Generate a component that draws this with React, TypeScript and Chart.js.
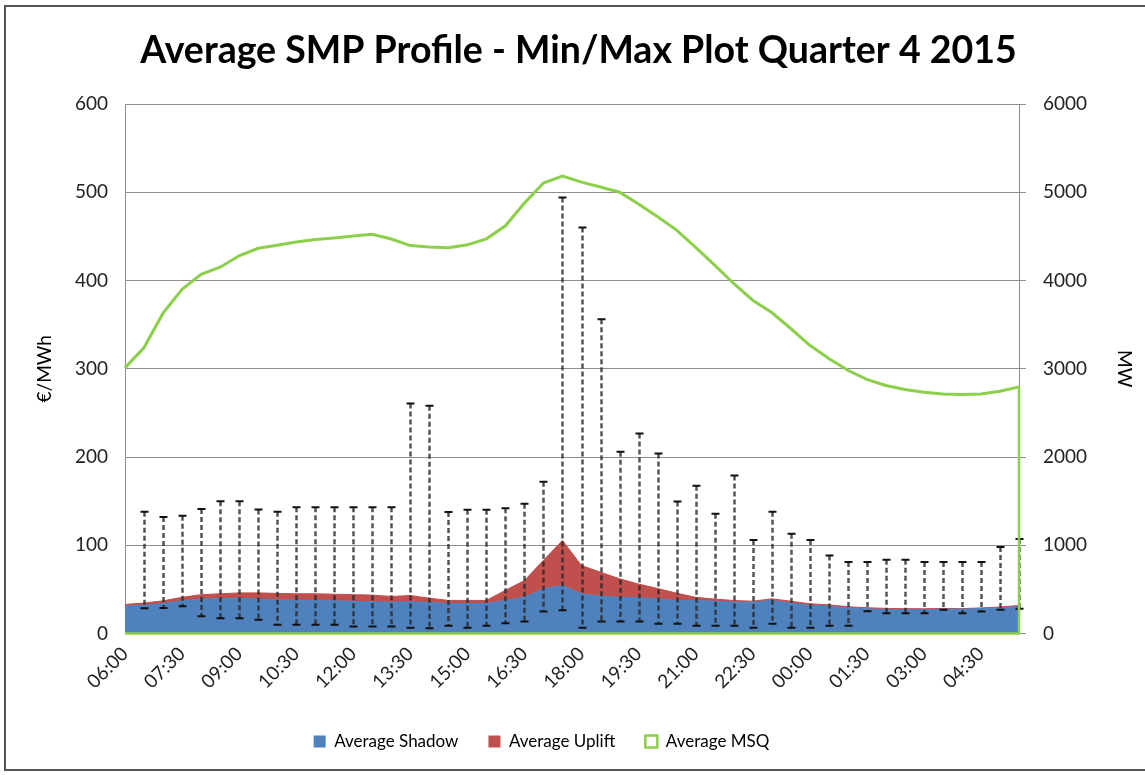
import React, { useEffect, useRef } from 'react';
import { Chart, registerables } from 'chart.js';

Chart.register(...registerables);

const timeLabels = [
  '06:00', '06:30', '07:00', '07:30', '08:00', '08:30', '09:00', '09:30',
  '10:00', '10:30', '11:00', '11:30', '12:00', '12:30', '13:00', '13:30',
  '14:00', '14:30', '15:00', '15:30', '16:00', '16:30', '17:00', '17:30',
  '18:00', '18:30', '19:00', '19:30', '20:00', '20:30', '21:00', '21:30',
  '22:00', '22:30', '23:00', '23:30', '00:00', '00:30', '01:00', '01:30',
  '02:00', '02:30', '03:00', '03:30', '04:00', '04:30', '05:00', '05:30',
];

const avgShadow = [
  31, 32, 34, 37, 39, 39.5, 40, 39, 38.5, 38, 37.4, 37, 36.5, 36, 35.5, 36,
  35, 34, 34, 34, 37.5, 41, 50.7, 54.4, 45, 42, 41, 40.5, 39.5, 37.4, 37.4, 36.6,
  35.5, 35.5, 37.4, 34.4, 31.8, 31, 29, 28, 27, 27, 27, 27.5, 27.6, 28.3, 29, 30.6,
];

const avgUplift = [
  2, 2.5, 3, 4, 5, 5.5, 6, 7, 7, 7, 7.6, 7.5, 7.5, 7.5, 6.5, 7,
  5, 3.5, 3.5, 3.5, 11.5, 19, 32.3, 51.1, 32, 27.5, 21, 15.5, 11.5, 8.3, 3.6, 2.4,
  1.9, 1.1, 1.9, 2.2, 1.9, 1.5, 1.3, 1.3, 1.4, 1.2, 1, 0.9, 0.6, 0.7, 1, 1.2,
];

const avgMsq = [
  3010, 3240, 3630, 3900, 4070, 4150, 4280, 4365, 4400, 4436, 4465, 4482, 4503, 4523, 4470, 4396,
  4380, 4372, 4404, 4472, 4620, 4877, 5104, 5183, 5115, 5060, 5000, 4866, 4722, 4571, 4375, 4174,
  3966, 3777, 3637, 3456, 3266, 3115, 2983, 2880, 2810, 2765, 2735, 2715, 2708, 2715, 2745, 2795,
];

const maxPrice = [
  null, 138, 132, 133.5, 141, 150, 150, 140.6, 138, 143, 143, 143, 143, 143, 143, 260.5,
  258, 137.6, 140.3, 140.3, 142, 147, 172, 494, 460, 356, 206, 226.5, 204, 149.5, 167.5, 135.7,
  179, 106, 138, 113, 106, 88.5, 81, 81, 83.6, 83.6, 81, 81, 81, 81, 98, 107,
];

const minPrice = [
  null, 28.7, 29, 31, 19.6, 17.4, 17.4, 15.5, 10, 10, 10, 10, 8, 8, 8, 6.4,
  6, 8.7, 6.4, 8.7, 11.7, 13.6, 25, 26.4, 6.4, 13.6, 13.6, 13.6, 11, 11, 8.7, 8.7,
  8.7, 6.4, 11, 6.4, 6.4, 8.7, 8.7, 25.3, 23, 23, 23, 26.8, 23, 25, 27, 28,
];

const BLUE = '#4f81bd';
const RED = '#c0504d';
const GREEN = '#8ccf4a';
const GRID = '#8c8c8c';
const TEXT = '#222222';
const FONT = 'Lato, "Open Sans", "DejaVu Sans", sans-serif';

const errorBarPlugin = {
  id: 'minMaxBars',
  afterDatasetsDraw(chart: any) {
    const { ctx } = chart;
    const xs = chart.scales.x;
    const ys = chart.scales.y;
    ctx.save();
    for (let i = 0; i < maxPrice.length; i++) {
      const hi = maxPrice[i];
      const lo = minPrice[i];
      if (hi == null || lo == null) continue;
      const x = Math.round(xs.getPixelForValue(i)) + 0.5;
      const yTop = ys.getPixelForValue(hi);
      const yBot = ys.getPixelForValue(lo);
      ctx.strokeStyle = 'rgba(40,40,40,0.8)';
      ctx.lineWidth = 2.5;
      ctx.setLineDash([5, 3]);
      ctx.beginPath();
      ctx.moveTo(x, yTop);
      ctx.lineTo(x, yBot);
      ctx.stroke();
      ctx.setLineDash([]);
      ctx.strokeStyle = '#111111';
      ctx.lineWidth = 2;
      ctx.beginPath();
      ctx.moveTo(x - 4, yTop);
      ctx.lineTo(x + 4, yTop);
      ctx.moveTo(x - 4, yBot);
      ctx.lineTo(x + 4, yBot);
      ctx.stroke();
    }
    ctx.restore();
  },
};

const msqEdgePlugin = {
  id: 'msqEdge',
  afterDatasetsDraw(chart: any) {
    const { ctx } = chart;
    const xs = chart.scales.x;
    const y1 = chart.scales.y1;
    const last = avgMsq.length - 1;
    const xl = xs.getPixelForValue(last);
    const x0 = xs.getPixelForValue(0);
    const yl = y1.getPixelForValue(avgMsq[last]);
    const yb = y1.getPixelForValue(0);
    ctx.save();
    ctx.strokeStyle = GREEN;
    ctx.lineWidth = 2.5;
    ctx.beginPath();
    ctx.moveTo(xl, yl);
    ctx.lineTo(xl, yb);
    ctx.lineTo(x0, yb);
    ctx.stroke();
    ctx.restore();
  },
};

const boxShiftPlugin = {
  id: 'boxShift',
  afterUpdate(chart: any) {
    const lg = chart.legend;
    if (lg) {
      lg.left -= 31;
      lg.right -= 31;
    }
    const tb = chart.titleBlock;
    if (tb) {
      tb.left += 6;
      tb.right += 6;
    }
  },
};

export default function App() {
  const canvasRef = useRef<HTMLCanvasElement | null>(null);

  useEffect(() => {
    document.body.style.margin = '0';
    const canvas = canvasRef.current;
    if (!canvas) return;
    const chart = new Chart(canvas, {
      type: 'line',
      data: {
        labels: timeLabels,
        datasets: [
          {
            label: 'Average MSQ',
            data: avgMsq,
            yAxisID: 'y1',
            borderColor: GREEN,
            backgroundColor: 'rgba(0,0,0,0)',
            borderWidth: 3,
            pointRadius: 0,
            fill: false,
            tension: 0,
          },
          {
            label: 'Average Shadow',
            data: avgShadow,
            yAxisID: 'y',
            borderColor: BLUE,
            backgroundColor: BLUE,
            borderWidth: 1,
            pointRadius: 0,
            fill: 'origin',
            tension: 0,
          },
          {
            label: 'Average Uplift',
            data: avgUplift,
            yAxisID: 'y',
            borderColor: RED,
            backgroundColor: RED,
            borderWidth: 1,
            pointRadius: 0,
            fill: '-1',
            tension: 0,
          },
        ],
      },
      plugins: [errorBarPlugin, msqEdgePlugin, boxShiftPlugin],
      options: {
        animation: false,
        responsive: false,
        maintainAspectRatio: false,
        layout: { padding: { left: 0, right: 0, top: 0, bottom: 15 } },
        plugins: {
          title: {
            display: true,
            text: 'Average SMP Profile - Min/Max Plot Quarter 4 2015',
            color: '#000000',
            font: { family: FONT, size: 37.5, weight: 'bold' },
            padding: { top: 28, bottom: 31 },
          },
          legend: {
            display: true,
            position: 'bottom',
            labels: {
              color: TEXT,
              font: { family: FONT, size: 17 },
              boxWidth: 12,
              boxHeight: 12,
              padding: 30,
              generateLabels: () => [
                { text: 'Average Shadow', fillStyle: BLUE, strokeStyle: BLUE, lineWidth: 0, datasetIndex: 1 },
                { text: 'Average Uplift', fillStyle: RED, strokeStyle: RED, lineWidth: 0, datasetIndex: 2 },
                { text: 'Average MSQ', fillStyle: '#ffffff', strokeStyle: GREEN, lineWidth: 2.5, datasetIndex: 0 },
              ],
            },
          },
          tooltip: { enabled: false },
        },
        scales: {
          x: {
            type: 'category',
            offset: false,
            grid: { display: false, drawTicks: false },
            border: { display: true, color: GRID },
            ticks: {
              autoSkip: false,
              minRotation: 45,
              maxRotation: 45,
              padding: 9,
              color: TEXT,
              font: { family: FONT, size: 19 },
              callback: (_v: any, i: number) => (i % 3 === 0 ? timeLabels[i] : ''),
            },
            afterFit: (s: any) => { s.height = 69.5; },
          },
          y: {
            type: 'linear',
            position: 'left',
            stacked: true,
            min: 0,
            max: 600,
            grid: { color: GRID, lineWidth: 1, drawTicks: false },
            border: { display: true, color: GRID },
            ticks: {
              stepSize: 100,
              padding: 17,
              color: TEXT,
              font: { family: FONT, size: 19 },
              callback: (v: any) => String(v),
            },
            title: {
              display: true,
              text: '€/MWh',
              color: '#000000',
              font: { family: FONT, size: 19 },
              padding: { top: 33, bottom: 0 },
            },
            afterFit: (s: any) => { s.width = 125; },
          },
          y1: {
            type: 'linear',
            position: 'right',
            min: 0,
            max: 6000,
            grid: { drawOnChartArea: false, color: GRID, tickLength: 7, drawTicks: true },
            border: { display: true, color: GRID },
            ticks: {
              stepSize: 1000,
              padding: 17,
              color: TEXT,
              font: { family: FONT, size: 19 },
              callback: (v: any) => String(v),
            },
            title: {
              display: true,
              text: 'MW',
              color: '#000000',
              font: { family: FONT, size: 19 },
              padding: { top: 9, bottom: 0 },
            },
            afterFit: (s: any) => { s.width = 126; },
          },
        },
      } as any,
    });
    return () => chart.destroy();
  }, []);

  return (
    <div style={{ position: 'relative', width: 1145, height: 775, overflow: 'hidden', background: '#ffffff' }}>
      <canvas ref={canvasRef} width={1145} height={775} style={{ display: 'block', width: 1145, height: 775 }} />
      <div
        style={{
          position: 'absolute',
          left: 4,
          top: 5,
          width: 1160,
          height: 766,
          border: '2px solid #555555',
          boxSizing: 'border-box',
          pointerEvents: 'none',
        }}
      />
    </div>
  );
}
